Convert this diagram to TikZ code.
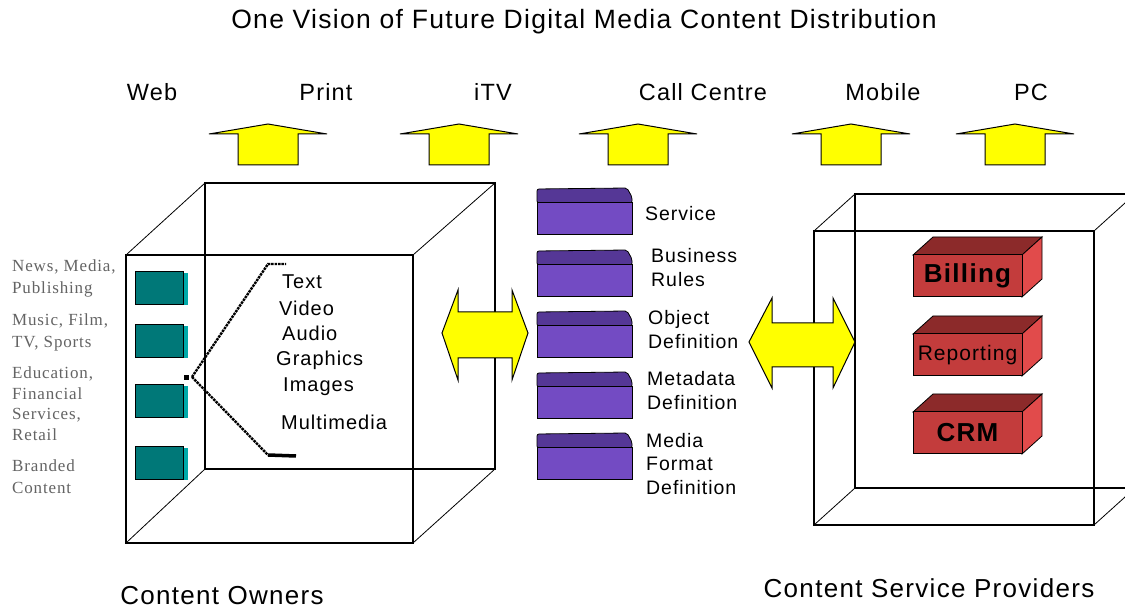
\documentclass[tikz,border=0pt]{standalone}
\usepackage{fontspec}
\setmainfont{Liberation Sans}
\newfontfamily\pix[LetterSpace=5]{Liberation Sans}
\newfontfamily\pixserif[LetterSpace=5]{Liberation Serif}
\definecolor{ayellow}{RGB}{255,255,0}
\definecolor{tealA}{RGB}{0,120,120}
\definecolor{tealB}{RGB}{0,170,170}
\definecolor{pbody}{RGB}{115,75,195}
\definecolor{ptop}{RGB}{85,55,150}
\definecolor{rfront}{RGB}{195,60,60}
\definecolor{rtop}{RGB}{140,42,42}
\definecolor{rside}{RGB}{225,75,75}
\definecolor{labgray}{RGB}{100,100,100}
\tikzset{
  edge/.style={draw=black, line width=1.2pt},
  diag/.style={draw=black, line width=0.8pt},
  yarrow/.style={draw=black, line width=1pt, fill=ayellow, line join=miter},
  toplab/.style={font=\pix\fontsize{23.5}{26}\selectfont, inner sep=0pt},
  medialab/.style={font=\pix\fontsize{20}{22}\selectfont, inner sep=0pt, anchor=west},
  purplab/.style={font=\pix\fontsize{19.5}{23.5}\selectfont, inner sep=0pt, anchor=west, align=left},
  sidelab/.style={font=\pixserif\fontsize{17}{21.5}\selectfont, text=labgray, inner sep=0pt, anchor=north west, align=left},
  redlab/.style={font=\pix\fontsize{26}{28}\selectfont\bfseries, inner sep=0pt},
  bottomlab/.style={font=\pix\fontsize{26}{28}\selectfont, inner sep=0pt},
  fan/.style={line width=2.4pt, dash pattern=on 2.5pt off 0.9pt},
}
\begin{document}
\begin{tikzpicture}[x=1pt,y=-1pt]
\useasboundingbox[fill=white] (0,0) rectangle (1125,609);

% title
\node[font=\pix\fontsize{26.5}{28}\selectfont, inner sep=0pt] (title) at (584,22) {One Vision of Future Digital Media Content Distribution};

% channel labels
\node[toplab] (web) at (152,92) {Web};
\node[toplab] (print) at (326,92) {Print};
\node[toplab] (itv) at (493,92) {iTV};
\node[toplab] (call) at (703,92) {Call Centre};
\node[toplab] (mobile) at (883,92) {Mobile};
\node[toplab] (pc) at (1031,92) {PC};

% up arrows
\foreach \c in {268,459,638,851,1015} {
  \draw[yarrow] (\c-30,165) -- (\c-30,134) -- (\c-59,134) -- (\c,124) -- (\c+59,134) -- (\c+30,134) -- (\c+30,165) -- cycle;
}

% left cube
\draw[edge] (205,183) rectangle (495,469);
\draw[edge] (126,255) rectangle (413,543);
\draw[diag] (126,255) -- (205,183);
\draw[diag] (413,255) -- (495,183);
\draw[diag] (126,543) -- (205,469);
\draw[diag] (413,543) -- (495,469);

% teal boxes
\foreach \y in {272,325,385,447} {
  \fill[tealB] (183,\y+1) rectangle (188,\y+33);
  \draw[fill=tealA, line width=1pt] (135,\y) rectangle (183,\y+33);
}

% side labels
\node[sidelab] (news) at (12,260) {News, Media,\\Publishing};
\node[sidelab] (music) at (12,314) {Music, Film,\\TV, Sports};
\node[sidelab] (edu) at (12,367) {Education,\\[-1pt]Financial\\[-1pt]Services,\\[-1pt]Retail};
\node[sidelab] (brand) at (12,460) {Branded\\Content};

% fan
\coordinate (apex) at (192,377);
\coordinate (ftop) at (268,264);
\coordinate (ftopend) at (286,264);
\coordinate (fbot) at (268,455);
\coordinate (fbotend) at (296,456);
\fill (184,375) rectangle (189,380);
\draw[fan] (apex) -- (ftop) -- (ftopend);
\draw[fan] (apex) -- (fbot);
\draw[line width=3.5pt] (fbot) -- (fbotend);

% media list
\node[medialab] (text) at (282,282) {Text};
\node[medialab] (video) at (279,308) {Video};
\node[medialab] (audio) at (282,333) {Audio};
\node[medialab] (graphics) at (276,360) {Graphics};
\node[medialab] (images) at (283,387) {Images};
\node[medialab] (multi) at (281,422) {Multimedia};

% purple boxes
\foreach \t in {188,250,311,372,433} {
  \draw[fill=ptop, line width=0.8pt, rounded corners=2pt] (537,\t+15) -- (537,\t+1) -- (627,\t) -- (632,\t+9) -- (632,\t+15) -- cycle;
  \draw[fill=pbody, line width=1pt] (537,\t+15) rectangle (632,\t+47);
}
\node[purplab] (service) at (645,214) {Service};
\node[purplab] (business) at (651,267.5) {Business\\Rules};
\node[purplab] (object) at (648,329.5) {Object\\Definition};
\node[purplab] (metadata) at (647,390.5) {Metadata\\Definition};
\node[purplab] (mediaformat) at (646,464) {Media\\Format\\Definition};

% left double arrow
\draw[yarrow] (442,333) -- (458,290) -- (458,312) -- (512,312) -- (512,290) -- (528,333) -- (512,380) -- (512,358) -- (458,358) -- (458,380) -- cycle;

% right cube
\begin{scope}
\clip (0,0) rectangle (1125,609);
\draw[edge] (855,194) rectangle (1135,488);
\draw[edge] (814,231) rectangle (1094,525);
\draw[diag] (814,231) -- (855,194);
\draw[diag] (1094,231) -- (1135,194);
\draw[diag] (814,525) -- (855,488);
\draw[diag] (1094,525) -- (1135,488);
\end{scope}

% right double arrow
\draw[yarrow] (749,342) -- (772,298) -- (772,323) -- (833,323) -- (833,298) -- (855,342) -- (833,388) -- (833,367) -- (772,367) -- (772,388) -- cycle;

% red boxes
\foreach \t in {255,334,412} {
  \draw[fill=rtop, line width=0.8pt] (913,\t) -- (933,\t-18) -- (1042,\t-18) -- (1022,\t) -- cycle;
  \draw[fill=rside, line width=0.8pt] (1022,\t) -- (1042,\t-18) -- (1042,\t+24) -- (1022,\t+42) -- cycle;
  \draw[fill=rfront, line width=1pt] (913,\t) rectangle (1022,\t+42);
}
\node[redlab] (billing) at (967.5,276) {Billing};
\node[font=\pix\fontsize{21}{23}\selectfont, inner sep=0pt] (reporting) at (967.5,355) {Reporting};
\node[redlab] (crm) at (967.5,433) {CRM};

% bottom labels
\node[bottomlab] (owners) at (222,596) {Content Owners};
\node[bottomlab] (providers) at (929,588) {Content Service Providers};
\end{tikzpicture}
\end{document}
